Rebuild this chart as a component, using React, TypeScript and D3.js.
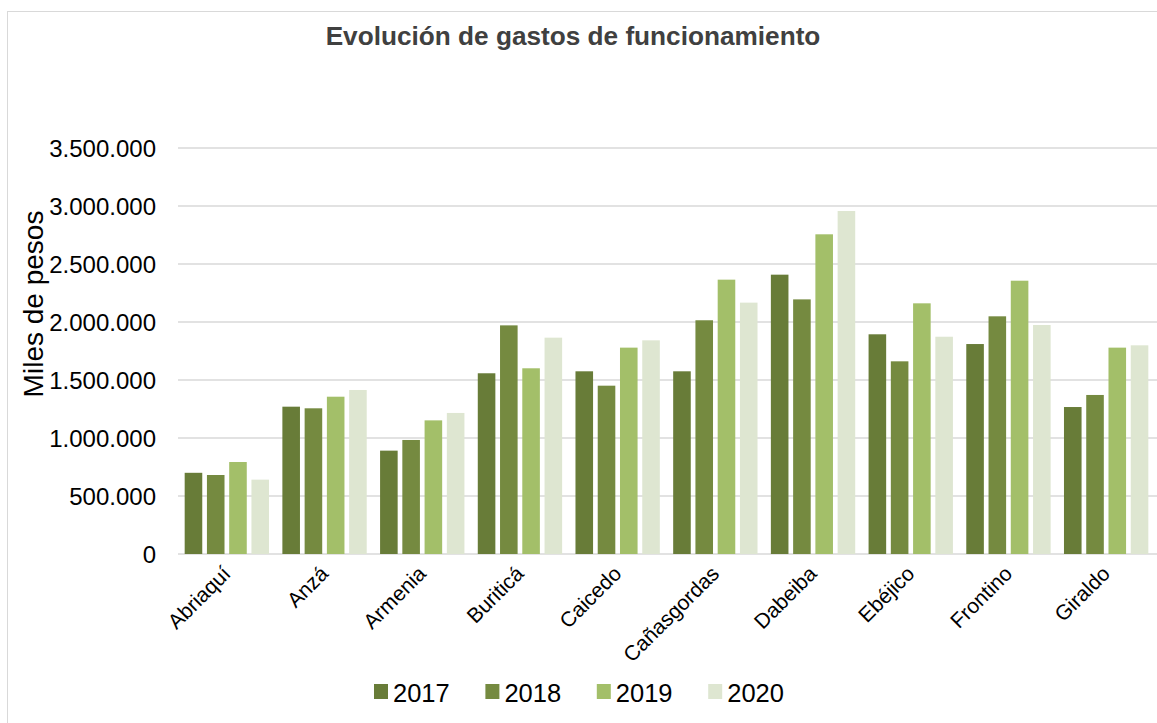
import React from 'react';
import * as d3 from 'd3';

const categories = [
  'Abriaquí',
  'Anzá',
  'Armenia',
  'Buriticá',
  'Caicedo',
  'Cañasgordas',
  'Dabeiba',
  'Ebéjico',
  'Frontino',
  'Giraldo'
];

const years = ['2017', '2018', '2019', '2020'];

const values2017 = [700000, 1270000, 891000, 1558000, 1575000, 1575000, 2408000, 1894000, 1810000, 1267000];
const values2018 = [681000, 1256000, 983000, 1971000, 1451000, 2015000, 2195000, 1661000, 2049000, 1371000];
const values2019 = [793000, 1356000, 1152000, 1601000, 1779000, 2365000, 2756000, 2161000, 2356000, 1779000];
const values2020 = [641000, 1414000, 1216000, 1865000, 1842000, 2167000, 2957000, 1873000, 1974000, 1799000];

const yTicks = [0, 500000, 1000000, 1500000, 2000000, 2500000, 3000000, 3500000];

const colors = ['#687c38', '#758a40', '#a3bf69', '#dee6d1'];

const series = [values2017, values2018, values2019, values2020];

const width = 1157;
const height = 723;

const padding = {
  top: 148,
  right: 2,
  bottom: 169,
  left: 178
};

const formatTick = (v: number) =>
  d3.format(',')(v).replace(/,/g, '.');

export default function App() {
  const innerWidth = width - padding.left - padding.right;
  const innerHeight = height - padding.top - padding.bottom;

  const x0 = d3
    .scaleBand()
    .domain(categories)
    .range([0, innerWidth])
    .padding(0);

  const x1 = d3
    .scaleBand()
    .domain(years)
    .range([0, x0.bandwidth()])
    .paddingInner(0.21)
    .paddingOuter(0.3);

  const y = d3
    .scaleLinear()
    .domain([0, 3500000])
    .range([innerHeight, 0]);

  const font = 'Arial, "Liberation Sans", sans-serif';

  return (
    <svg
      width={width}
      height={height}
      style={{ position: 'absolute', left: 0, top: 0, background: '#fff' }}
      fontFamily={font}
    >
      <rect x={7.5} y={11.5} width={width + 10} height={height + 10} fill="#fff" stroke="#d9d9d9" />

      <text x={573} y={45} textAnchor="middle" fontSize={26.2} fontWeight="bold" fill="#404040">
        Evolución de gastos de funcionamiento
      </text>

      {/* y axis title */}
      <text
        transform={`translate(43, 304) rotate(-90)`}
        textAnchor="middle"
        fontSize={28}
        fill="#000"
      >
        Miles de pesos
      </text>

      <g transform={`translate(${padding.left}, ${padding.top})`}>
        <g className="grid">
          {yTicks.map(t => (
            <line key={t} x1={0} x2={innerWidth + 10} y1={y(t)} y2={y(t)} stroke="#d9d9d9" strokeWidth={1.3} />
          ))}
        </g>

        <g className="y-labels">
          {yTicks.map(t => (
            <text key={t} x={-22} y={y(t)} dy="0.36em" textAnchor="end" fontSize={24} fill="#000">
              {formatTick(t)}
            </text>
          ))}
        </g>

        <g className="bars">
          {categories.map((c, i) => (
            <g key={c} transform={`translate(${x0(c)}, 0)`}>
              {years.map((yr, j) => (
                <rect
                  key={yr}
                  x={x1(yr)}
                  y={y(series[j][i])}
                  width={x1.bandwidth()}
                  height={innerHeight - y(series[j][i])}
                  fill={colors[j]}
                />
              ))}
            </g>
          ))}
        </g>

        <g className="x-labels">
          {categories.map(c => (
            <text
              key={c}
              transform={`translate(${x0(c)! + x0.bandwidth() / 2 + 5}, ${innerHeight + 21}) rotate(-45)`}
              textAnchor="end"
              fontSize={21}
              fill="#000"
            >
              {c}
            </text>
          ))}
        </g>
      </g>

      <g className="legend">
        {years.map((yr, j) => (
          <g key={yr} transform={`translate(${374 + j * 111.4}, 684)`}>
            <rect width={14} height={15} fill={colors[j]} />
            <text x={19} y={18} fontSize={25.5} fill="#000">
              {yr}
            </text>
          </g>
        ))}
      </g>
    </svg>
  );
}
